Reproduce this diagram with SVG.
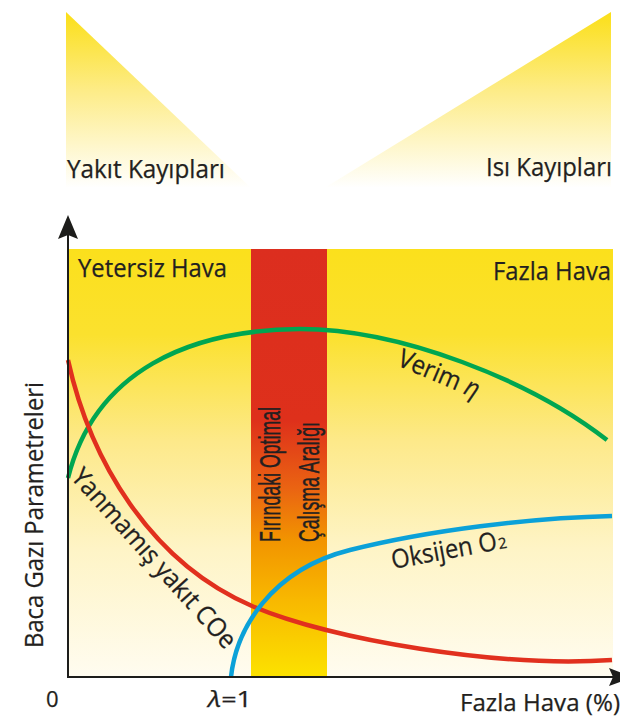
<svg xmlns="http://www.w3.org/2000/svg" width="620" height="718" viewBox="0 0 620 718">
<defs>
<linearGradient id="triGrad" x1="0" y1="12" x2="0" y2="188" gradientUnits="userSpaceOnUse">
<stop offset="0" stop-color="#fbdf18"/>
<stop offset="0.45" stop-color="#fdec88"/>
<stop offset="1" stop-color="#ffffff"/>
</linearGradient>
<linearGradient id="bgGrad" x1="0" y1="249" x2="0" y2="677" gradientUnits="userSpaceOnUse">
<stop offset="0" stop-color="#fbe01c"/>
<stop offset="0.2" stop-color="#fbe12e"/>
<stop offset="0.45" stop-color="#fde98a"/>
<stop offset="0.7" stop-color="#fef4c6"/>
<stop offset="1" stop-color="#fffcf0"/>
</linearGradient>
<linearGradient id="bandGrad" x1="0" y1="249" x2="0" y2="677" gradientUnits="userSpaceOnUse">
<stop offset="0" stop-color="#dc2e1f"/>
<stop offset="0.4" stop-color="#de301b"/>
<stop offset="0.56" stop-color="#ea6412"/>
<stop offset="0.68" stop-color="#f29400"/>
<stop offset="0.82" stop-color="#f8b800"/>
<stop offset="1" stop-color="#fce200"/>
</linearGradient>
<style>
.t{font-family:"Open Sans","Liberation Sans",sans-serif;font-size:26px;fill:#231f20;stroke:#231f20;stroke-width:0.25;}
.tc{font-family:"Liberation Sans","Open Sans",sans-serif;font-size:29px;fill:#231f20;stroke:#231f20;stroke-width:0.45;}
.ax{stroke:#1d1d1b;stroke-width:2;fill:none;}
.ah{fill:#1d1d1b;}
.crv{fill:none;stroke-width:4.5;stroke-linecap:butt;}
</style>
</defs>

<g id="losses">
<polygon points="66,12 66,187 250,187" fill="url(#triGrad)"/>
<polygon points="611,12 611,187 326,187" fill="url(#triGrad)"/>
<text class="t" x="67" y="178" textLength="158" lengthAdjust="spacingAndGlyphs">Yakıt Kayıpları</text>
<text class="t" x="486" y="176" textLength="126" lengthAdjust="spacingAndGlyphs">Isı Kayıpları</text>
</g>

<g id="plot-area">
<rect x="68" y="249" width="545" height="428" fill="url(#bgGrad)"/>
<rect x="251" y="249" width="76" height="428" fill="url(#bandGrad)"/>
<text class="t" x="78" y="277" textLength="149" lengthAdjust="spacingAndGlyphs">Yetersiz Hava</text>
<text class="t" x="493" y="280" textLength="118" lengthAdjust="spacingAndGlyphs">Fazla Hava</text>
</g>

<g id="optimal-band-label">
<text class="tc" transform="translate(280,542) rotate(-90)" textLength="135" lengthAdjust="spacingAndGlyphs">Fırındaki Optimal</text>
<text class="tc" transform="translate(319,542) rotate(-90)" textLength="120" lengthAdjust="spacingAndGlyphs">Çalışma Aralığı</text>
</g>

<g id="connectors">
<path id="verim" class="crv" stroke="#00a651" d="M68,478 C95,370 190,330 300,329 C400,329 530,380 607,440"/>
<path id="yanmamis" class="crv" stroke="#e1301e" d="M68,360 C90,460 150,562 252,606 C332,640 500,668 612,660"/>
<path id="oksijen" class="crv" stroke="#0ba1d8" d="M231,677 C236,630 270,570 350,550 C430,530 530,518 612,516"/>
</g>

<g id="curve-labels">
<text class="t" transform="translate(396,365) rotate(23)" textLength="86" lengthAdjust="spacingAndGlyphs">Verim <tspan font-style="italic">η</tspan></text>
<g transform="translate(393,569) rotate(-10.5)">
<text class="t" x="0" y="0" textLength="107" lengthAdjust="spacingAndGlyphs">Oksijen O</text>
<text class="t" x="108" y="0" style="font-size:15px">2</text>
</g>
<text class="t" transform="translate(70,478) rotate(48)" textLength="232" lengthAdjust="spacingAndGlyphs">Yanmamış yakıt COe</text>
</g>

<g id="axes">
<line class="ax" x1="68" y1="677" x2="68" y2="234"/>
<path class="ah" d="M68,215 L78,239 L68,235 L58,239 Z"/>
<line class="ax" x1="67" y1="677" x2="614" y2="677"/>
<path class="ah" d="M633,677 L609,668 L613,677 L609,686 Z"/>
<text class="t" transform="translate(43,648) rotate(-90)" textLength="266" lengthAdjust="spacingAndGlyphs">Baca Gazı Parametreleri</text>
<text class="t" x="46" y="707" style="font-size:22px">0</text>
<text class="t" x="208" y="707" style="font-size:22px" textLength="44" lengthAdjust="spacingAndGlyphs"><tspan font-style="italic">λ</tspan>=1</text>
<text class="t" x="460" y="711" style="font-size:24px" textLength="160" lengthAdjust="spacingAndGlyphs">Fazla Hava (%)</text>
</g>
</svg>
